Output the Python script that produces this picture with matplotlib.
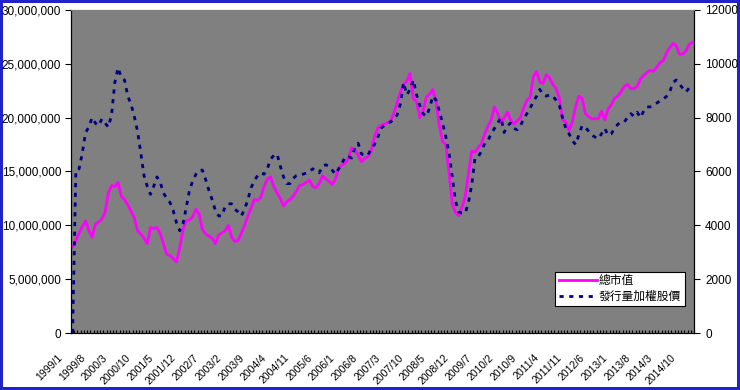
import numpy as np
import matplotlib
matplotlib.use('Agg')
import matplotlib.pyplot as plt
import matplotlib.transforms as mtransforms
from matplotlib.ticker import FuncFormatter

plt.rcParams['font.family'] = ['Liberation Sans', 'Noto Sans CJK TC', 'DejaVu Sans']

# monthly data, 1999/1 .. 2014/12
months = ['%d/%d' % (1999 + m // 12, m % 12 + 1) for m in range(192)]

# total market value (millions)
mkt_cap = [
    8.0, 8.6, 9.3, 9.9, 10.4, 9.5, 8.9, 10.1, 10.3, 10.6, 11.2, 13.0,
    13.7, 13.6, 14.0, 12.7, 12.4, 11.9, 11.3, 10.7, 9.5, 9.2, 8.8, 8.3,
    9.8, 9.7, 9.8, 9.2, 8.3, 7.3, 7.2, 6.9, 6.6, 7.9, 9.6, 10.4,
    10.5, 10.8, 11.5, 11.0, 9.6, 9.2, 9.0, 8.8, 8.3, 9.1, 9.3, 9.5,
    10.0, 8.9, 8.5, 8.6, 9.3, 10.0, 10.9, 11.6, 12.4, 12.3, 12.6, 13.6,
    14.3, 14.5, 13.6, 13.0, 12.5, 11.8, 12.2, 12.4, 12.7, 13.2, 13.7, 13.8,
    14.0, 14.2, 13.6, 13.5, 13.9, 14.6, 14.3, 14.1, 13.8, 14.3, 15.3, 15.6,
    15.8, 16.2, 17.2, 17.0, 16.5, 15.9, 16.2, 16.4, 16.9, 18.2, 19.0, 19.3,
    19.4, 19.5, 19.7, 20.4, 21.4, 22.4, 23.1, 23.4, 24.1, 21.8, 21.5, 20.0,
    20.6, 21.9, 22.2, 22.6, 21.5, 19.3, 17.8, 17.5, 14.9, 12.0, 11.2, 10.9,
    11.7, 12.7, 14.8, 16.9, 16.8, 17.2, 17.6, 18.5, 19.2, 19.8, 21.0, 20.4,
    19.5, 20.0, 20.5, 19.8, 19.4, 19.7, 20.0, 20.9, 21.6, 21.9, 23.8, 24.3,
    23.3, 23.2, 24.0, 23.7, 23.1, 22.7, 21.8, 19.8, 19.6, 18.8, 19.6, 21.0,
    22.0, 21.8, 20.4, 20.1, 19.9, 19.9, 19.9, 20.6, 19.8, 20.8, 21.2, 21.8,
    22.0, 22.4, 22.9, 23.1, 22.7, 22.7, 22.9, 23.6, 23.9, 24.2, 24.4, 24.3,
    24.7, 25.1, 25.3, 26.0, 26.5, 26.9, 26.7, 25.9, 25.9, 26.2, 26.8, 27.0,
]

# TAIEX
taiex = [
    0, 6050, 6100, 6700, 7450, 7650, 8000, 7800, 7700, 7950, 7800, 7650,
    8100, 9300, 9850, 9500, 9400, 8800, 8500, 8050, 7500, 6700, 5850, 5450,
    5150, 5450, 5800, 5600, 5200, 5000, 4850, 4550, 4100, 3800, 4050, 4650,
    5300, 5650, 5900, 6050, 6050, 5700, 5300, 4950, 4550, 4350, 4350, 4700,
    4800, 4800, 4600, 4500, 4350, 4600, 4950, 5400, 5650, 5850, 5950, 5900,
    6100, 6450, 6600, 6650, 6200, 5800, 5550, 5550, 5750, 5850, 5880, 5900,
    5940, 6000, 6100, 6050, 5950, 6200, 6250, 6200, 6050, 5900, 6100, 6300,
    6550, 6550, 6500, 6900, 7050, 6650, 6600, 6600, 6850, 7000, 7250, 7600,
    7700, 7780, 7840, 7950, 8100, 8500, 9300, 8850, 9050, 9400, 8850, 8450,
    8150, 8050, 8350, 8800, 8650, 8250, 7800, 7300, 6700, 5800, 4900, 4500,
    4450, 4450, 4850, 5500, 6500, 6550, 6750, 7050, 7150, 7400, 7600, 7800,
    8000, 7450, 7700, 7800, 7600, 7550, 7700, 7950, 8150, 8350, 8600, 8800,
    9050, 8850, 8800, 8850, 8800, 8650, 8450, 8000, 7600, 7400, 7150, 7000,
    7350, 7700, 7650, 7500, 7350, 7280, 7220, 7400, 7600, 7350, 7400, 7600,
    7750, 7840, 7840, 8000, 8150, 8050, 8200, 8000, 8250, 8400, 8400, 8450,
    8540, 8620, 8680, 8790, 8950, 9300, 9400, 9250, 9100, 8950, 9100, 9050,
]

x = np.arange(len(months))
mkt_cap = np.array(mkt_cap) * 1e6

fig = plt.figure(figsize=(7.4, 3.9), dpi=100)
fig.patch.set_facecolor('white')
fig.patch.set_edgecolor('#2222cc')
fig.patch.set_linewidth(4)

ax = fig.add_axes([71 / 740, 1 - 333 / 390, 623 / 740, 323 / 390])
ax.set_facecolor('#808080')
ax2 = ax.twinx()

l1, = ax.plot(x, mkt_cap, color='#ff00ff', lw=2.0, label='總市值')
l2, = ax2.plot(x, taiex, color='#000080', lw=2.0, dashes=(1.5, 2.0),
               label='發行量加權股價')

ax.set_xlim(-0.5, len(x) - 0.5)
ax.set_ylim(0, 30000000)
ax.set_yticks(np.arange(0, 30000001, 5000000))
ax.yaxis.set_major_formatter(FuncFormatter(lambda v, p: '{:,.0f}'.format(v)))
ax2.set_ylim(0, 12000)
ax2.set_yticks(np.arange(0, 12001, 2000))

ax.set_xticks(x[::7])
ax.set_xticklabels(months[::7], rotation=45, ha='right', va='top')
ax.set_xticks(np.arange(-0.5, len(x), 1), minor=True)
ax.tick_params(axis='x', which='major', length=0, pad=14, labelsize=7.5)
ax.tick_params(axis='x', which='minor', direction='in', length=2, width=0.8)
ax.tick_params(axis='y', length=4, labelsize=8.5, pad=3)
ax2.tick_params(axis='y', length=4, labelsize=8.5, pad=4)

offset = mtransforms.ScaledTranslation(-6 / 72, 0, fig.dpi_scale_trans)
for lab in ax.get_xticklabels():
    lab.set_transform(lab.get_transform() + offset)

for a in (ax, ax2):
    for s in ('left', 'bottom', 'right'):
        a.spines[s].set_color('black')
        a.spines[s].set_linewidth(0.8)
    a.spines['top'].set_color('#808080')

leg = ax2.legend(handles=[l1, l2], loc='lower right',
                 bbox_to_anchor=(0.985, 0.083), fontsize=8.5,
                 frameon=True, fancybox=False, framealpha=1,
                 edgecolor='black', handlelength=3.2, handletextpad=0.2,
                 borderpad=0.3, labelspacing=0.3, borderaxespad=0)
leg.get_frame().set_linewidth(0.8)

plt.savefig('out.png', dpi=100)
